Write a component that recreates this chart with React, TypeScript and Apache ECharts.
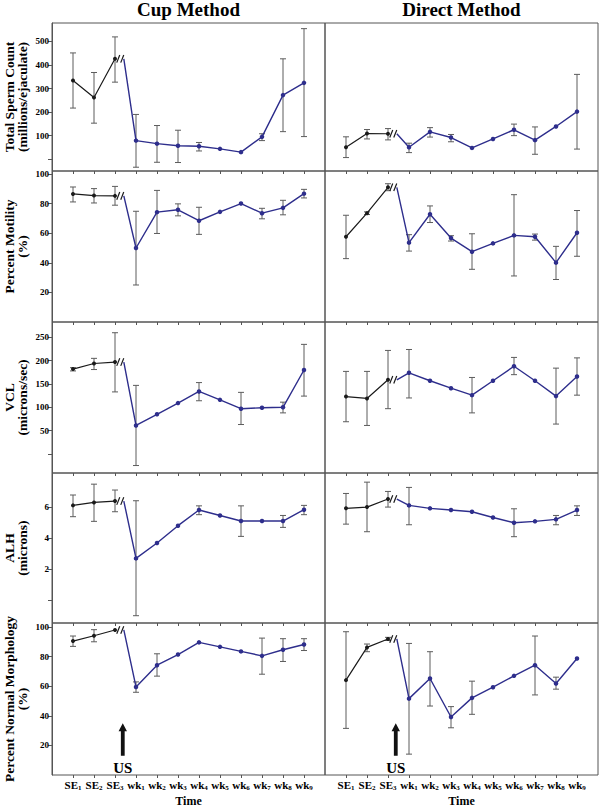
import React, { useEffect, useRef } from 'react';
import * as echarts from 'echarts';

// ---------- data ----------
const categories = ['SE1', 'SE2', 'SE3', 'wk1', 'wk2', 'wk3', 'wk4', 'wk5', 'wk6', 'wk7', 'wk8', 'wk9'];

const tscCupMean = [334, 262, 426, 79, 66, 57, 55, 44, 30, 95, 272, 324];
const tscCupLow = [217, 153, 327, -34, -13, -14, 35, null, null, 79, 117, 96];
const tscCupHigh = [451, 368, 519, 190, 143, 123, 71, null, null, 108, 426, 554];
const tscDirMean = [51, 109, 108, 51, 116, 92, 48, 86, 125, 81, 139, 202];
const tscDirLow = [7, 86, 82, 28, 94, 74, null, null, 100, 21, null, 43];
const tscDirHigh = [95, 126, 130, 68, 134, 105, null, null, 149, 137, null, 360];

const motCupMean = [86.5, 85.4, 85.2, 50, 74.2, 75.8, 68.4, 74.4, 80, 73.5, 77.1, 86.7];
const motCupLow = [81.1, 80.4, 78.9, 25, 59.8, 71.7, 59.2, null, null, 69.7, 72.4, 83.8];
const motCupHigh = [91.2, 90.1, 91.6, 74.8, 88.9, 79.8, 77.5, null, null, 76.8, 82.2, 89.6];
const motDirMean = [57.6, 73.5, 91, 53.6, 72.8, 56.7, 47.5, 53.1, 58.5, 57.6, 40.1, 60.3];
const motDirLow = [42.8, 72.6, 88.7, 47.9, 67.2, 54.7, 35.6, null, 31.1, 55.3, 28.7, 44.4];
const motDirHigh = [72.1, 74.4, 93.4, 59, 78.4, 58.3, 59.6, null, 86, 59.4, 51.1, 75.3];

const vclCupMean = [182, 194, 197, 61, 85, 109, 134, 116, 97, 99, 100, 180];
const vclCupLow = [178, 181, 133, -25, null, null, 114, null, 63, null, 88, 124];
const vclCupHigh = [185, 205, 260, 147, null, null, 153, null, 132, null, 111, 235];
const vclDirMean = [123, 119, 159, 174, 157, 141, 126, 157, 188, 157, 124, 166];
const vclDirLow = [69, 61, 97, 120, null, null, 88, null, 170, null, 64, 126];
const vclDirHigh = [177, 177, 222, 224, null, null, 164, null, 207, null, 184, 206];

const alhCupMean = [6.13, 6.32, 6.41, 2.71, 3.7, 4.82, 5.83, 5.48, 5.12, 5.12, 5.12, 5.85];
const alhCupLow = [5.4, 5.1, 5.72, -0.99, null, null, 5.53, null, 4.13, null, 4.71, 5.53];
const alhCupHigh = [6.8, 7.5, 7.12, 6.43, null, null, 6.1, null, 6.1, null, 5.48, 6.13];
const alhDirMean = [5.94, 6.02, 6.54, 6.13, 5.94, 5.83, 5.72, 5.35, 5.01, 5.1, 5.23, 5.83];
const alhDirLow = [4.92, 4.43, 6.02, 4.88, null, null, null, null, 4.11, null, 4.88, 5.48];
const alhDirHigh = [6.9, 7.63, 7.03, 7.29, null, null, null, null, 5.91, null, 5.48, 6.1];

const morCupMean = [90.5, 94.1, 98, 59.5, 74.2, 81.4, 89.6, 86.6, 83.5, 80.5, 84.6, 88.2];
const morCupLow = [86.9, 90, null, 55.9, 66.8, null, null, null, null, 68.1, 76.7, 84.1];
const morCupHigh = [93.9, 98.2, null, 62.9, 81.9, null, null, null, null, 92.5, 92.1, 92.1];
const morDirMean = [64.1, 86.2, 91.9, 51.6, 65.2, 39.2, 52.1, 59.3, 67, 74.2, 61.8, 78.7];
const morDirLow = [31.5, 83.3, 90.9, 14.1, 46.6, 31.9, 41, null, null, 54.1, 58, null];
const morDirHigh = [96.8, 88.5, 93, 88.9, 83.3, 46.2, 63.4, null, null, 93.9, 66.1, null];

const tscTicks = [0, 100, 200, 300, 400, 500];
const tscLabels = [100, 200, 300, 400, 500];
const pctTicks = [20, 40, 60, 80, 100];
const pctLabels = [20, 40, 60, 80, 100];
const vclTicks = [0, 50, 100, 150, 200, 250];
const vclLabels = [50, 100, 150, 200, 250];
const alhTicks = [0, 2, 4, 6];
const alhLabels = [2, 4, 6];

const rowNames = [
  'Total Sperm Count\n(millions/ejaculate)',
  'Percent Motility\n(%)',
  'VCL\n(microns/sec)',
  'ALH\n(microns)',
  'Percent Normal Morphology\n(%)',
];
const columnTitles = ['Cup Method', 'Direct Method'];
const xAxisTitle = 'Time';
const usArrow = [3.37, 35, 13]; // x position, arrow top, arrow bottom (bottom row value units)

// ---------- layout / style ----------
const FONT = "'Liberation Serif', 'Times New Roman', serif";
const ROW_TOPS = [23, 171, 322, 473, 623];
const ROW_HEIGHTS = [148, 151, 151, 150, 152];
const COL_LEFTS = [52, 325];
const PANEL_W = 273;
const BLACK = '#1a1a1a';
const BLUE = '#2e2e8c';
const ERR = '#5c5c5c';
const FRAME = '#555';

const rows = [
  { min: -50, max: 578, ticks: tscTicks, labels: tscLabels,
    panels: [[tscCupMean, tscCupLow, tscCupHigh], [tscDirMean, tscDirLow, tscDirHigh]] },
  { min: 0, max: 102, ticks: pctTicks, labels: pctLabels,
    panels: [[motCupMean, motCupLow, motCupHigh], [motDirMean, motDirLow, motDirHigh]] },
  { min: -41, max: 283, ticks: vclTicks, labels: vclLabels,
    panels: [[vclCupMean, vclCupLow, vclCupHigh], [vclDirMean, vclDirLow, vclDirHigh]] },
  { min: -1.46, max: 8.22, ticks: alhTicks, labels: alhLabels,
    panels: [[alhCupMean, alhCupLow, alhCupHigh], [alhDirMean, alhDirLow, alhDirHigh]] },
  { min: 0, max: 102.7, ticks: pctTicks, labels: pctLabels,
    panels: [[morCupMean, morCupLow, morCupHigh], [morDirMean, morDirLow, morDirHigh]] },
];

const xPositions = categories.map((_, i) => i + 1);

function buildOption() {
  const grid: any[] = [];
  const xAxis: any[] = [];
  const yAxis: any[] = [];
  const series: any[] = [];
  const graphic: any[] = [];

  rows.forEach((row, r) => {
    row.panels.forEach((panel, c) => {
      const idx = r * 2 + c;
      const [mean, low, high] = panel as any[];
      const bottomRow = r === rows.length - 1;
      grid.push({
        left: COL_LEFTS[c], top: ROW_TOPS[r], width: PANEL_W, height: ROW_HEIGHTS[r],
        show: true, borderColor: FRAME, borderWidth: 1, backgroundColor: 'transparent',
      });
      xAxis.push({
        type: 'value', gridIndex: idx, min: 0, max: 13, position: 'bottom',
        axisLine: { show: false, onZero: false },
        splitLine: { show: false },
        axisTick: { show: true, inside: false, length: 3, customValues: xPositions, lineStyle: { color: FRAME } },
        axisLabel: {
          show: bottomRow, customValues: xPositions, margin: 4,
          formatter: (v: number) => {
            const name = categories[Math.round(v) - 1];
            if (!name) return '';
            const m = name.match(/^(\D+)(\d+)$/);
            return m ? `{a|${m[1]}}{b|${m[2]}}` : name;
          },
          rich: {
            a: { fontFamily: FONT, fontWeight: 'bold', fontSize: 11, color: '#000', lineHeight: 12 },
            b: { fontFamily: FONT, fontWeight: 'bold', fontSize: 7, color: '#000', verticalAlign: 'bottom', lineHeight: 8 },
          },
        },
      });
      yAxis.push({
        type: 'value', gridIndex: idx, min: row.min, max: row.max,
        splitLine: { show: false },
        axisLine: { show: c === 0, onZero: false, lineStyle: { color: FRAME } },
        axisTick: { show: c === 0, inside: false, length: 4, customValues: row.ticks, lineStyle: { color: FRAME } },
        axisLabel: {
          show: c === 0, customValues: row.labels, margin: 3,
          fontFamily: FONT, fontWeight: 'bold', fontSize: 9, color: '#000',
        },
      });

      const errData: any[] = [];
      mean.forEach((_: number, k: number) => {
        if (low[k] != null && high[k] != null) errData.push([k + 1, low[k], high[k]]);
      });
      series.push({
        type: 'custom', coordinateSystem: 'cartesian2d', xAxisIndex: idx, yAxisIndex: idx, z: 1,
        data: errData, silent: true,
        renderItem: (params: any, api: any) => {
          const x = api.value(0);
          const p1 = api.coord([x, api.value(1)]);
          const p2 = api.coord([x, api.value(2)]);
          const cw = 3;
          const st = { stroke: ERR, lineWidth: 1 };
          return {
            type: 'group',
            children: [
              { type: 'line', shape: { x1: p1[0], y1: p1[1], x2: p2[0], y2: p2[1] }, style: st },
              { type: 'line', shape: { x1: p1[0] - cw, y1: p1[1], x2: p1[0] + cw, y2: p1[1] }, style: st },
              { type: 'line', shape: { x1: p2[0] - cw, y1: p2[1], x2: p2[0] + cw, y2: p2[1] }, style: st },
            ],
          };
        },
      });

      series.push({
        type: 'line', xAxisIndex: idx, yAxisIndex: idx, z: 3,
        data: [0, 1, 2].map((k) => [k + 1, mean[k]]),
        symbol: 'circle', symbolSize: 4,
        itemStyle: { color: BLACK }, lineStyle: { color: BLACK, width: 1.2 },
      });

      const blueData: any[] = [{ value: [3.42, mean[2]], symbol: 'none' }];
      for (let k = 3; k < mean.length; k++) blueData.push([k + 1, mean[k]]);
      series.push({
        type: 'line', xAxisIndex: idx, yAxisIndex: idx, z: 3,
        data: blueData,
        symbol: 'circle', symbolSize: 4.5,
        itemStyle: { color: BLUE }, lineStyle: { color: BLUE, width: 1.4 },
      });

      series.push({
        type: 'custom', coordinateSystem: 'cartesian2d', xAxisIndex: idx, yAxisIndex: idx, z: 4,
        data: [[3.25, mean[2]]], silent: true,
        renderItem: (params: any, api: any) => {
          const p = api.coord([api.value(0), api.value(1)]);
          const st = { stroke: BLACK, lineWidth: 1.2 };
          return {
            type: 'group',
            children: [
              { type: 'line', shape: { x1: p[0] - 3.5, y1: p[1] + 3.8, x2: p[0] - 0.5, y2: p[1] - 3.8 }, style: st },
              { type: 'line', shape: { x1: p[0] + 0.5, y1: p[1] + 3.8, x2: p[0] + 3.5, y2: p[1] - 3.8 }, style: st },
            ],
          };
        },
      });

      if (bottomRow) {
        series.push({
          type: 'custom', coordinateSystem: 'cartesian2d', xAxisIndex: idx, yAxisIndex: idx, z: 5,
          data: [usArrow], silent: true,
          renderItem: (params: any, api: any) => {
            const top = api.coord([api.value(0), api.value(1)]);
            const bot = api.coord([api.value(0), api.value(2)]);
            const hw = 4.2, sw = 1.9, hh = 8;
            const x = top[0];
            return {
              type: 'group',
              children: [
                {
                  type: 'polygon',
                  shape: { points: [[x, top[1]], [x + hw, top[1] + hh], [x + sw, top[1] + hh], [x + sw, bot[1]],
                    [x - sw, bot[1]], [x - sw, top[1] + hh], [x - hw, top[1] + hh]] },
                  style: { fill: '#111' },
                },
                {
                  type: 'text', x: x, y: bot[1] + 12,
                  style: { text: 'US', fontFamily: FONT, fontWeight: 'bold', fontSize: 15, fill: '#000',
                    align: 'center', verticalAlign: 'middle' },
                },
              ],
            };
          },
        });
      }
    });

    graphic.push({
      type: 'text', x: 15.5, y: ROW_TOPS[r] + ROW_HEIGHTS[r] / 2, rotation: Math.PI / 2,
      style: { text: rowNames[r], fontFamily: FONT, fontWeight: 'bold', fontSize: 13.5, lineHeight: 13,
        fill: '#000', align: 'center', verticalAlign: 'middle' },
    });
  });

  columnTitles.forEach((t, c) => {
    const cx = COL_LEFTS[c] + PANEL_W / 2;
    graphic.push({
      type: 'text', x: cx, y: 9,
      style: { text: t, fontFamily: FONT, fontWeight: 'bold', fontSize: 19, fill: '#000', align: 'center', verticalAlign: 'middle' },
    });
    graphic.push({
      type: 'text', x: cx, y: 807,
      style: { text: xAxisTitle, fontFamily: FONT, fontWeight: 'bold', fontSize: 12, lineHeight: 12, fill: '#000', align: 'center', verticalAlign: 'bottom' },
    });
  });

  return {
    animation: false,
    backgroundColor: '#fff',
    textStyle: { fontFamily: FONT },
    grid, xAxis, yAxis, series, graphic,
  };
}

export default function App() {
  const ref = useRef<HTMLDivElement>(null);
  useEffect(() => {
    if (!ref.current) return;
    const chart = echarts.init(ref.current, undefined, { renderer: 'svg' });
    chart.setOption(buildOption() as any);
    return () => chart.dispose();
  }, []);
  return (
    <div
      ref={ref}
      style={{ position: 'fixed', left: 0, top: 0, width: 600, height: 808, background: '#fff' }}
    />
  );
}
